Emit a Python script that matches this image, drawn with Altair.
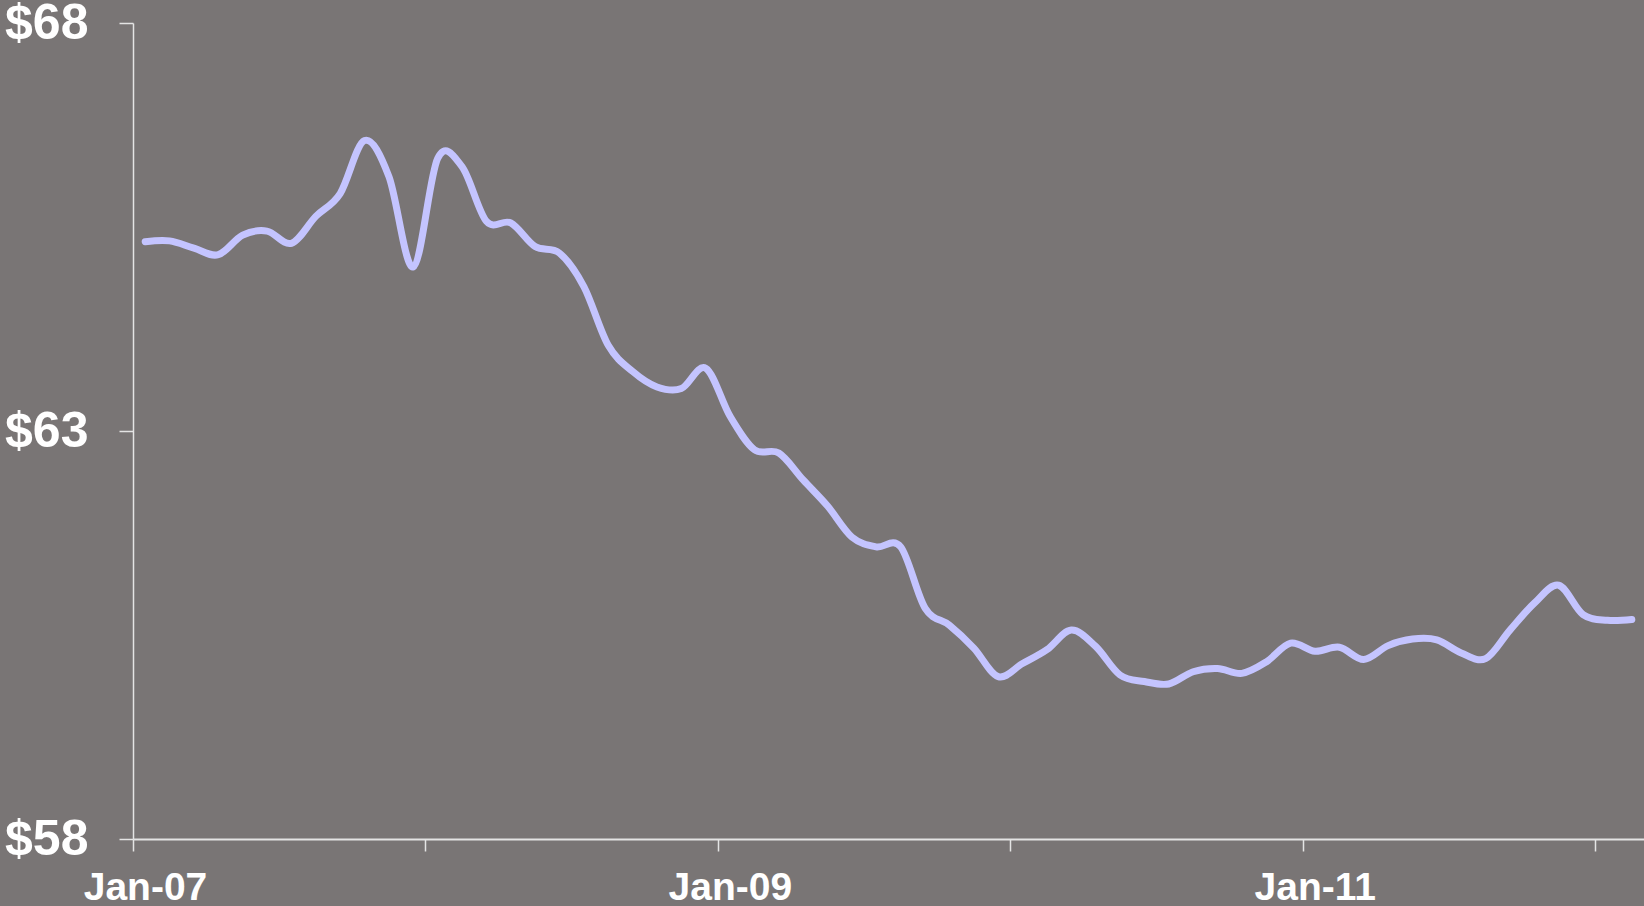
import altair as alt
import pandas as pd

months = pd.date_range("2007-01-01", periods=62, freq="MS").strftime("%b-%y").tolist()
prices = [65.32, 65.33, 65.24, 65.16, 65.40, 65.45, 65.30, 65.63, 65.91, 66.56,
          66.12, 65.01, 66.34, 66.24, 65.57, 65.55, 65.26, 65.18, 64.77, 64.05,
          63.73, 63.54, 63.52, 63.77, 63.18, 62.77, 62.73, 62.40, 62.08, 61.70,
          61.58, 61.58, 60.83, 60.62, 60.34, 59.99, 60.15, 60.32, 60.56, 60.36,
          60.01, 59.93, 59.90, 60.05, 60.09, 60.03, 60.17, 60.40, 60.30, 60.35,
          60.20, 60.37, 60.45, 60.44, 60.28, 60.21, 60.56, 60.89, 61.11, 60.75,
          60.68, 60.69]
year_ticks = [0, 12, 24, 36, 48, 60]
label_map = {0: "Jan-07", 24: "Jan-09", 48: "Jan-11"}
y_ticks = [58, 63, 68]

df = pd.DataFrame({"month": months, "price": prices})
df["pos"] = [i + 0.5 for i in range(len(df))]

label_expr = " : ".join(
    [f"datum.value == {k} ? '{v}'" for k, v in label_map.items()] + ["''"]
)

line = alt.Chart(df).mark_line(
    interpolate="cardinal", color="#c4c4ff", strokeWidth=7, strokeCap="round"
).encode(
    x=alt.X("pos:Q", scale=alt.Scale(domain=[0, 62], nice=False, zero=False),
            axis=alt.Axis(values=year_ticks, labelExpr=label_expr, title=None,
                          grid=False, domainColor="#e4e4e4", domainWidth=2,
                          tickColor="#e4e4e4", tickWidth=1.5, tickSize=12,
                          labelFont="Liberation Sans", labelFontWeight="bold",
                          labelFontSize=39, labelColor="#ffffff",
                          labelPadding=17, labelOffset=12, labelFlush=False,
                          labelOverlap=False)),
    y=alt.Y("price:Q", scale=alt.Scale(domain=[58, 68], nice=False, zero=False),
            axis=alt.Axis(values=y_ticks, format="$d", title=None, grid=False,
                          domainColor="#e4e4e4", domainWidth=1.5,
                          tickColor="#e4e4e4", tickWidth=1.5, tickSize=14,
                          labelFont="Liberation Sans", labelFontWeight="bold",
                          labelFontSize=50, labelColor="#ffffff",
                          labelPadding=31, labelFlush=False, labelOverlap=False)),
)

chart = line.properties(
    width=1511, height=816,
    padding={"left": 133, "top": 23, "right": 0, "bottom": 67},
    autosize=alt.AutoSizeParams(type="none"),
    background="#797575",
).configure_view(stroke=None)

chart.save("out.html", embed_options={"renderer": "svg", "actions": False})
